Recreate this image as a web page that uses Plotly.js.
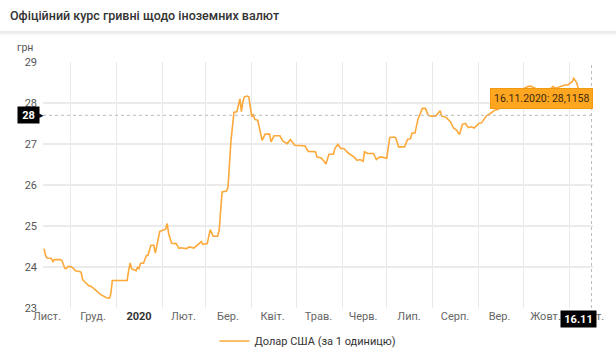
<!DOCTYPE html>
<html>
<head>
<meta charset="utf-8">
<script src="https://cdn.plot.ly/plotly-3.0.1.min.js"></script>
<style>
html,body{margin:0;padding:0;background:#fff;}
#chart{width:616px;height:350px;}
</style>
</head>
<body>
<div id="chart"></div>
<script>
// Official UAH/USD rate (hryvnia per 1 US dollar)
const dates = [
  '2019-11-13','2019-11-14','2019-11-15','2019-11-18','2019-11-19','2019-11-20','2019-11-24','2019-11-25',
  '2019-11-27','2019-11-28','2019-11-29','2019-12-01','2019-12-03','2019-12-04','2019-12-07','2019-12-08',
  '2019-12-09','2019-12-11','2019-12-13','2019-12-15','2019-12-17','2019-12-18','2019-12-21','2019-12-23',
  '2019-12-25','2019-12-27','2019-12-28','2019-12-29','2020-01-08','2020-01-09','2020-01-10','2020-01-11',
  '2020-01-14','2020-01-15','2020-01-16','2020-01-17','2020-01-19','2020-01-21','2020-01-22','2020-01-24',
  '2020-01-26','2020-01-27','2020-01-29','2020-01-30','2020-02-02','2020-02-03','2020-02-04','2020-02-05',
  '2020-02-07','2020-02-10','2020-02-12','2020-02-13','2020-02-17','2020-02-19','2020-02-22','2020-02-26',
  '2020-02-27','2020-02-28','2020-03-02','2020-03-04','2020-03-06','2020-03-09','2020-03-10','2020-03-12',
  '2020-03-15','2020-03-16','2020-03-18','2020-03-20','2020-03-22','2020-03-24','2020-03-25','2020-03-26',
  '2020-03-27','2020-03-29','2020-03-30','2020-04-01','2020-04-02','2020-04-03','2020-04-05','2020-04-08',
  '2020-04-10','2020-04-13','2020-04-14','2020-04-16','2020-04-20','2020-04-22','2020-04-25','2020-04-27',
  '2020-04-30','2020-05-07','2020-05-09','2020-05-14','2020-05-15','2020-05-18','2020-05-21','2020-05-23',
  '2020-05-26','2020-05-27','2020-05-29','2020-05-31','2020-06-02','2020-06-05','2020-06-09','2020-06-11',
  '2020-06-13','2020-06-15','2020-06-16','2020-06-18','2020-06-22','2020-06-24','2020-06-26','2020-06-28',
  '2020-07-01','2020-07-03','2020-07-06','2020-07-07','2020-07-09','2020-07-13','2020-07-15','2020-07-17',
  '2020-07-18','2020-07-20','2020-07-22','2020-07-25','2020-07-27','2020-07-29','2020-07-31','2020-08-03',
  '2020-08-06','2020-08-07','2020-08-10','2020-08-13','2020-08-15','2020-08-17','2020-08-19','2020-08-21',
  '2020-08-23','2020-08-25','2020-08-27','2020-08-29','2020-09-01','2020-09-03','2020-09-06','2020-09-09',
  '2020-09-12','2020-09-14','2020-09-18','2020-09-23','2020-09-28','2020-10-04','2020-10-06','2020-10-08',
  '2020-10-10','2020-10-15','2020-10-17','2020-10-20','2020-10-21','2020-10-23','2020-10-29','2020-10-31',
  '2020-11-03','2020-11-04','2020-11-06','2020-11-07','2020-11-08','2020-11-11','2020-11-13','2020-11-16'
];
const usd = [
  24.45,24.28,24.22,24.21,24.13,24.18,24.18,24.16,
  23.97,23.96,24.01,24.01,23.96,23.91,23.89,23.87,
  23.69,23.63,23.55,23.52,23.47,23.43,23.33,23.28,
  23.25,23.24,23.34,23.67,23.67,23.91,24.10,23.96,
  23.91,23.99,23.96,24.09,24.09,24.28,24.28,24.53,
  24.53,24.34,24.65,24.87,24.91,24.93,25.06,24.81,
  24.58,24.57,24.45,24.47,24.45,24.49,24.46,24.57,
  24.62,24.55,24.57,24.91,24.75,24.75,24.89,25.83,
  25.85,25.95,27.09,27.77,27.79,28.10,27.79,28.03,
  28.15,28.17,28.15,27.66,27.73,27.60,27.58,27.09,
  27.24,27.24,27.05,27.20,27.20,27.07,27.01,27.11,
  26.97,26.95,26.82,26.81,26.68,26.66,26.51,26.75,
  26.75,26.89,26.99,26.89,26.89,26.78,26.68,26.60,
  26.62,26.58,26.81,26.77,26.77,26.62,26.68,26.68,
  26.65,27.16,27.17,27.15,26.93,26.93,27.11,27.13,
  27.27,27.27,27.60,27.87,27.87,27.70,27.68,27.68,
  27.81,27.68,27.65,27.54,27.39,27.34,27.23,27.48,
  27.50,27.40,27.42,27.39,27.50,27.52,27.68,27.75,
  27.83,27.84,27.97,28.10,28.28,28.40,28.41,28.38,
  28.34,28.32,28.33,28.36,28.40,28.36,28.44,28.44,
  28.52,28.60,28.50,28.36,28.33,28.25,28.15,28.1158
];
const seriesName = 'Долар США (за 1 одиницю)';
const monthTickVals = ['2019-11-15','2019-12-16','2020-01-16','2020-02-15','2020-03-16','2020-04-15',
  '2020-05-16','2020-06-15','2020-07-16','2020-08-16','2020-09-15','2020-10-16','2020-11-15'];
const monthTickText = ['Лист.','Груд.','<b style="color:#333">2020</b>','Лют.','Бер.','Квіт.',
  'Трав.','Черв.','Лип.','Серп.','Вер.','Жовт.','Лист.'];
const yTicks = [23,24,25,26,27,28,29];
const crosshairValue = 27.7;
const crosshairLabel = '28';
const cursorDateLabel = '16.11';

const lastDate = dates[dates.length-1];
const lastVal = usd[usd.length-1];
const tipText = '16.11.2020: ' + lastVal.toFixed(4).replace('.', ',');

const lineColor = '#fda83a';

const trace = {
  x: dates, y: usd, type: 'scatter', mode: 'lines', name: seriesName,
  line: {color: lineColor, width: 1.6, shape: 'linear'},
  hoverinfo: 'skip'
};

const layout = {
  width: 616, height: 350,
  margin: {l: 43, r: 23, t: 62, b: 42},
  paper_bgcolor: '#fff', plot_bgcolor: '#fff',
  font: {family: 'Roboto, Arial, sans-serif', size: 11, color: '#666'},
  title: {
    text: 'Офіційний курс гривні щодо іноземних валют',
    x: 10/616, xanchor: 'left', xref: 'container',
    y: 1 - 16/350, yanchor: 'middle', yref: 'container',
    font: {family: 'Roboto, Arial, sans-serif', size: 12.5, color: '#333', weight: 500}
  },
  showlegend: true,
  legend: {orientation: 'h', x: 0.5, xanchor: 'center', xref: 'container',
           y: 9/350, yanchor: 'middle', yref: 'container',
           font: {size: 11, color: '#333'}},
  hovermode: false,
  xaxis: {
    type: 'date',
    range: ['2019-11-12 07:00', '2020-11-17'],
    tickmode: 'array', tickvals: monthTickVals, ticktext: monthTickText,
    showgrid: false, zeroline: false, showline: false, ticks: '',
    tickfont: {size: 11, color: '#666'},
    minor: {dtick: 'M1', tick0: '2019-12-01', showgrid: true, gridcolor: '#e9e9e9', gridwidth: 1, ticks: ''},
    fixedrange: true
  },
  yaxis: {
    range: [23, 29],
    tickmode: 'array', tickvals: yTicks,
    showgrid: true, gridcolor: '#ebebeb', gridwidth: 1.5,
    zeroline: false, showline: false, ticks: '',
    tickfont: {size: 11, color: '#555'},
    ticklabelstandoff: 5,
    fixedrange: true
  },
  shapes: [
    // title separator
    {type: 'line', xref: 'paper', yref: 'paper', x0: -0.08, x1: 1.045, y0: 1.122, y1: 1.122,
     line: {color: '#e4e4e4', width: 1.5}, layer: 'above'},
    {type: 'line', xref: 'paper', yref: 'paper', x0: -0.08, x1: 1.045, y0: 1.114, y1: 1.114,
     line: {color: '#f5f5f5', width: 2}, layer: 'above'},
    // crosshair
    {type: 'line', xref: 'paper', yref: 'y', x0: 0, x1: 1, y0: crosshairValue, y1: crosshairValue,
     line: {color: '#bbb', width: 1, dash: 'dot'}},
    {type: 'line', xref: 'x', yref: 'paper', x0: lastDate, x1: lastDate, y0: 0, y1: 1,
     line: {color: '#bbb', width: 1, dash: 'dot'}}
  ],
  annotations: [
    {text: 'грн', xref: 'paper', yref: 'paper', x: -0.015, y: 1.06, xanchor: 'right', yanchor: 'middle',
     showarrow: false, font: {size: 10.5, color: '#555'}},
    // y crosshair tag
    {text: '<b>' + crosshairLabel + '</b>', xref: 'paper', yref: 'y', x: -0.005, y: crosshairValue,
     xanchor: 'right', yanchor: 'middle', showarrow: false, bgcolor: '#000', borderpad: 2,
     width: 17, height: 12, font: {size: 11, color: '#fff'}},
    {text: '▸', xref: 'paper', yref: 'y', x: -0.002, y: crosshairValue, xanchor: 'center', yanchor: 'middle',
     showarrow: false, font: {size: 9, color: '#000'}},
    // x crosshair tag
    {text: '<b>' + cursorDateLabel + '</b>', xref: 'x', yref: 'paper', x: lastDate, y: -0.01,
     xanchor: 'right', yanchor: 'top', xshift: 5, showarrow: false, bgcolor: '#000', borderpad: 2,
     width: 31, height: 12, font: {size: 11, color: '#fff'}},
    // tooltip
    {text: tipText, xref: 'x', yref: 'y', x: lastDate, y: lastVal,
     showarrow: true, arrowhead: 0, arrowcolor: '#f59d12', arrowwidth: 1, ax: -50, ay: 0, standoff: 0,
     bgcolor: '#ffa620', bordercolor: '#f09a10', borderwidth: 1, borderpad: 3,
     font: {size: 10.5, color: '#3a2a10'}}
  ]
};

Plotly.newPlot('chart', [trace], layout, {displayModeBar: false, staticPlot: true});
</script>
</body>
</html>
